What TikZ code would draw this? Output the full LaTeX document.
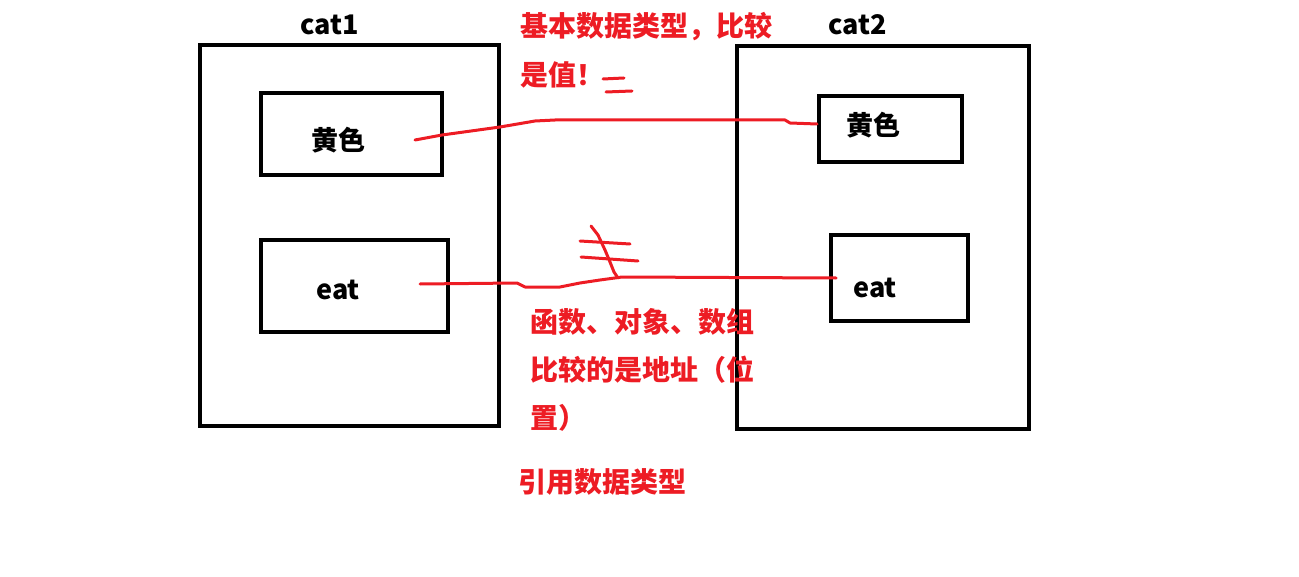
\documentclass[tikz,border=0pt]{standalone}
\usepackage{fontspec}
\newfontfamily\cjk{Noto Sans CJK SC}
\definecolor{paintred}{HTML}{ED1C24}
\tikzset{
  box/.style={draw,line width=2pt,inner sep=0},
  lbl/.style={font=\cjk\bfseries\fontsize{13.5}{16}\selectfont,inner sep=0},
  note/.style={font=\cjk\bfseries\fontsize{14}{17}\selectfont,inner sep=0,text=paintred,anchor=west},
  pen/.style={paintred,line width=1.5pt,line cap=round,line join=round},
}
\begin{document}
\begin{tikzpicture}[x=0.5pt,y=-0.5pt]
\useasboundingbox (0,0) rectangle (1299,577);
% left object
\node [box,minimum width=149.5pt,minimum height=190.5pt] (cat1) at (349.5,235.5) {};
\node [lbl] (cat1name) at (330,25) {cat1};
\node [box,minimum width=90.5pt,minimum height=41pt] (colorA) at (351.5,134) {};
\node [lbl] (colorAtext) at (338,140) {黄色};
\node [box,minimum width=93.5pt,minimum height=46pt] (eatA) at (354.5,286) {};
\node [lbl] (eatAtext) at (338,290) {eat};
% right object
\node [box,minimum width=146pt,minimum height=191.5pt] (cat2) at (883,237.5) {};
\node [lbl] (cat2name) at (858,25) {cat2};
\node [box,minimum width=71.5pt,minimum height=33pt] (colorB) at (890.5,129) {};
\node [lbl] (colorBtext) at (873,125) {黄色};
\node [box,minimum width=68.5pt,minimum height=43pt] (eatB) at (899.5,278) {};
\node [lbl] (eatBtext) at (875,288) {eat};
% notes
\node [note] (basic1) at (520,27) {基本数据类型，比较};
\node [note] (basic2) at (520,75) {是值！};
\node [note] (ref1) at (530,322) {函数、对象、数组};
\node [note] (ref2) at (530,370) {比较的是地址（位};
\node [note] (ref3) at (530,418) {置）};
\node [note] (ref4) at (518,482) {引用数据类型};
% red lines
\coordinate (fromA) at (415,140);
\coordinate (fromB) at (420,284);
\draw [pen] (fromA) -- (442,135) -- (500,127) -- (535,121) -- (555,120) -- (785,120)
  -- (790,123) -- ([yshift=2.5pt]colorB.west);
\draw [pen] (fromB) -- (517,283) -- (525,287) -- (560,287) -- (580,283) -- (600,280)
  -- (622,277) -- ([xshift=3.5pt]eatB.west);
% equal and not equal marks
\draw [pen] (603,79) -- (624,78);
\draw [pen] (606,92) -- (632,91);
\draw [pen] (580,241) -- (630,244);
\draw [pen] (581,257) -- (638,261);
\draw [pen] (591,226) -- (598,235) -- (605,250) -- (610,262) -- (614,272) -- (618,278);
\end{tikzpicture}
\end{document}
